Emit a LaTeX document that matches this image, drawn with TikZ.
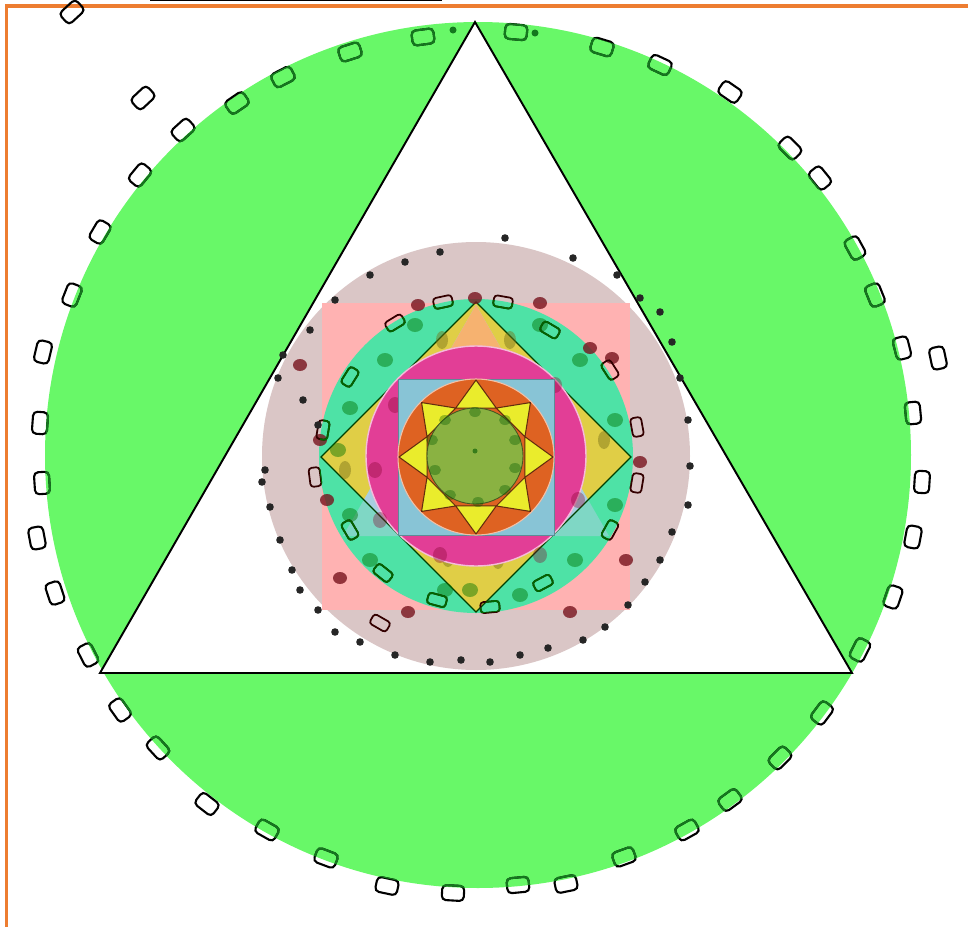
\documentclass[tikz,border=0pt]{standalone}
\usetikzlibrary{calc}
\definecolor{frameorange}{RGB}{237,125,49}
\definecolor{leafgreen}{RGB}{104,248,104}
\definecolor{blobgreen}{RGB}{20,120,30}
\definecolor{rosy}{RGB}{218,198,198}
\definecolor{salmonpink}{RGB}{255,178,178}
\definecolor{aqua}{RGB}{78,226,166}
\definecolor{mustard}{RGB}{224,206,70}
\definecolor{peach}{RGB}{246,178,112}
\definecolor{paleblue}{RGB}{168,206,224}
\definecolor{rosepink}{RGB}{226,62,150}
\definecolor{skyblue}{RGB}{136,196,214}
\definecolor{rust}{RGB}{222,98,34}
\definecolor{lemon}{RGB}{234,236,44}
\definecolor{olivegreen}{RGB}{138,178,66}
\definecolor{darkred}{RGB}{120,20,30}
\begin{document}
\begin{tikzpicture}[x=0.02cm,y=-0.02cm,
  blob/.style={draw=black, line width=1.2pt, rounded corners=2.4pt,
    minimum width=0.44cm, minimum height=0.3cm, inner sep=0pt},
  ringblob/.style={draw=black!80!red, line width=1pt, rounded corners=1.8pt,
    minimum width=0.38cm, minimum height=0.22cm, inner sep=0pt},
  outline/.style={draw=black, line width=1.1pt, line join=miter}]
\useasboundingbox (0,0) rectangle (968,927);

% frame
\draw[frameorange, line width=2pt] (6.5,927) -- (6.5,6) -- (968,6);
\draw[black, line width=0.9pt] (150,0.6) -- (442,0.6);

% big disc and inscribed triangle
\coordinate (O) at (478,455);
\coordinate (A) at (475,22);
\coordinate (B) at (100,673);
\coordinate (Cc) at (852,673);
\fill[leafgreen] (O) circle (433);
\filldraw[fill=white, outline] (A) -- (B) -- (Cc) -- cycle;

% beads around the big disc
\def\outerbeads{72/12, 143/98, 183/130, 140/175, 100/232, 72/295, 43/352,
  40/423, 42/483, 37/538, 55/593, 88/655, 120/710, 158/748, 207/804,
  267/830, 326/858, 387/886, 453/893, 518/885, 566/884, 624/857, 687/830,
  730/800, 780/758, 822/713, 860/650, 893/597, 913/537, 922/482, 913/413,
  902/348, 938/358, 875/295, 855/248, 820/178, 790/148, 730/92, 660/65,
  602/47, 516/32, 423/37, 350/52, 283/77, 237/103}
\foreach \bx/\by [count=\i] in \outerbeads {
  \pgfmathsetmacro\ba{atan2(455-\by,\bx-478)+90}
  \node[blob, rotate=\ba] (ob\i) at (\bx,\by) {};
}
\begin{scope}[even odd rule]
  \clip (O) circle (433) (A) -- (B) -- (Cc) -- cycle;
  \foreach \bx/\by [count=\i] in \outerbeads {
    \pgfmathsetmacro\ba{atan2(455-\by,\bx-478)+90}
    \node[blob, draw=blobgreen, rotate=\ba] (gb\i) at (\bx,\by) {};
  }
\end{scope}
\fill[blobgreen] (453,30) circle (3.5) (535,33) circle (3.5);

% mandala
\coordinate (M) at (476,456);
\fill[rosy] (M) circle (214);
\fill[salmonpink] (322,303) rectangle (630,610);
\coordinate (D1) at (476,302);
\coordinate (D2) at (631,457);
\coordinate (D3) at (476,612);
\coordinate (D4) at (321,457);
\fill[mustard] (D1) -- (D2) -- (D3) -- (D4) -- cycle;
\coordinate (T1) at (476,305);
\coordinate (T2) at (609,536);
\coordinate (T3) at (343,536);
\fill[paleblue] (T1) -- (T2) -- (T3) -- cycle;
\begin{scope}
  \clip (T1) -- (T2) -- (T3) -- cycle;
  \fill[peach] (300,290) rectangle (650,420);
\end{scope}
\fill[aqua, even odd rule] (M) circle (157) (D1) -- (D2) -- (D3) -- (D4) -- cycle;
\begin{scope}[even odd rule]
  \clip (M) circle (157) (D1) -- (D2) -- (D3) -- (D4) -- cycle;
  \fill[paleblue, fill opacity=0.55] (T1) -- (T2) -- (T3) -- cycle;
\end{scope}
\draw[black!75!green, line width=0.7pt] (D1) -- (D2) -- (D3) -- (D4) -- cycle;

% spots in the aqua ring and the mustard corners
\foreach \sx/\sy in {385/360, 350/408, 338/450, 350/515, 370/560, 445/590,
  520/595, 575/560, 615/505, 615/420, 580/360, 540/325, 415/325, 470/590}
  \fill[green!45!black, fill opacity=0.45] (\sx,\sy) ellipse (8 and 7);
\foreach \sx/\sy in {442/340, 510/340, 448/558, 498/560, 604/440, 345/470}
  \fill[olive!80!black, fill opacity=0.45] (\sx,\sy) ellipse (6 and 9);

% dark red spots along the aqua rim
\foreach \sx/\sy in {418/305, 540/303, 590/348, 612/358, 320/440, 327/500,
  340/578, 408/612, 570/612, 626/560, 640/462, 300/365, 475/298}
  \fill[darkred, fill opacity=0.8] (\sx,\sy) ellipse (7 and 6);

% beads around the aqua ring
\def\ringbeads{443/302, 503/302, 395/323, 350/377, 323/430, 315/477, 350/530,
  383/573, 437/600, 490/607, 543/583, 610/530, 637/483, 637/427, 610/370,
  550/330, 380/623}
\foreach \bx/\by [count=\i] in \ringbeads {
  \pgfmathsetmacro\ba{atan2(456-\by,\bx-476)+90}
  \node[ringblob, rotate=\ba] (rb\i) at (\bx,\by) {};
}
\begin{scope}[even odd rule]
  \clip (M) circle (157) (D1) -- (D2) -- (D3) -- (D4) -- cycle;
  \foreach \bx/\by [count=\i] in \ringbeads {
    \pgfmathsetmacro\ba{atan2(456-\by,\bx-476)+90}
    \node[ringblob, draw=green!40!black, rotate=\ba] (rg\i) at (\bx,\by) {};
  }
\end{scope}

% dots around the rosy disc
\foreach \sx/\sy in {283/355, 278/378, 303/400, 318/425, 265/470, 262/482,
  270/507, 280/540, 292/570, 300/590, 318/610, 335/632, 360/642, 395/655,
  430/662, 461/660, 490/662, 520/655, 548/648, 583/640, 605/627, 628/605,
  645/582, 660/560, 672/532, 688/505, 690/466, 688/420, 680/378, 672/342,
  660/312, 640/298, 617/275, 505/238, 440/252, 405/262, 370/275, 335/300,
  310/330, 573/258}
  \fill[black!85] (\sx,\sy) circle (3.8);

% rose disc and inner square
\filldraw[fill=rosepink, draw=white!65!rosepink, line width=0.8pt] (M) circle (110);
\foreach \sx/\sy in {375/470, 380/520, 440/555, 540/555, 578/500, 395/405, 555/385}
  \fill[purple!70!black, fill opacity=0.35] (\sx,\sy) ellipse (7 and 8);
\filldraw[fill=skyblue, draw=skyblue!70!black, line width=0.5pt] (398,379) rectangle (554,535);

% rust disc with the eight-pointed star
\filldraw[fill=rust, draw=white!60!rust, line width=0.6pt] (476,457) circle (78);
\foreach \k in {0,...,7} {
  \pgfmathsetmacro\ta{90+45*\k}
  \filldraw[fill=lemon, draw=black!55!rust, line width=0.6pt, line join=round,
    shift={(476,457)}] (\ta:77) -- ({\ta+22.5}:53) -- ({\ta-22.5}:53) -- cycle;
}

% olive centre
\filldraw[fill=olivegreen, draw=black!50!olivegreen, line width=0.5pt] (475,456) circle (48);
\foreach \sx/\sy in {475/412, 505/420, 515/440, 515/468, 505/490, 478/502,
  450/495, 435/470, 432/440, 445/420}
  \fill[green!35!black, fill opacity=0.35] (\sx,\sy) ellipse (6 and 5);
\fill[green!35!black, fill opacity=0.6] (475,451) circle (2.5);
\end{tikzpicture}
\end{document}
